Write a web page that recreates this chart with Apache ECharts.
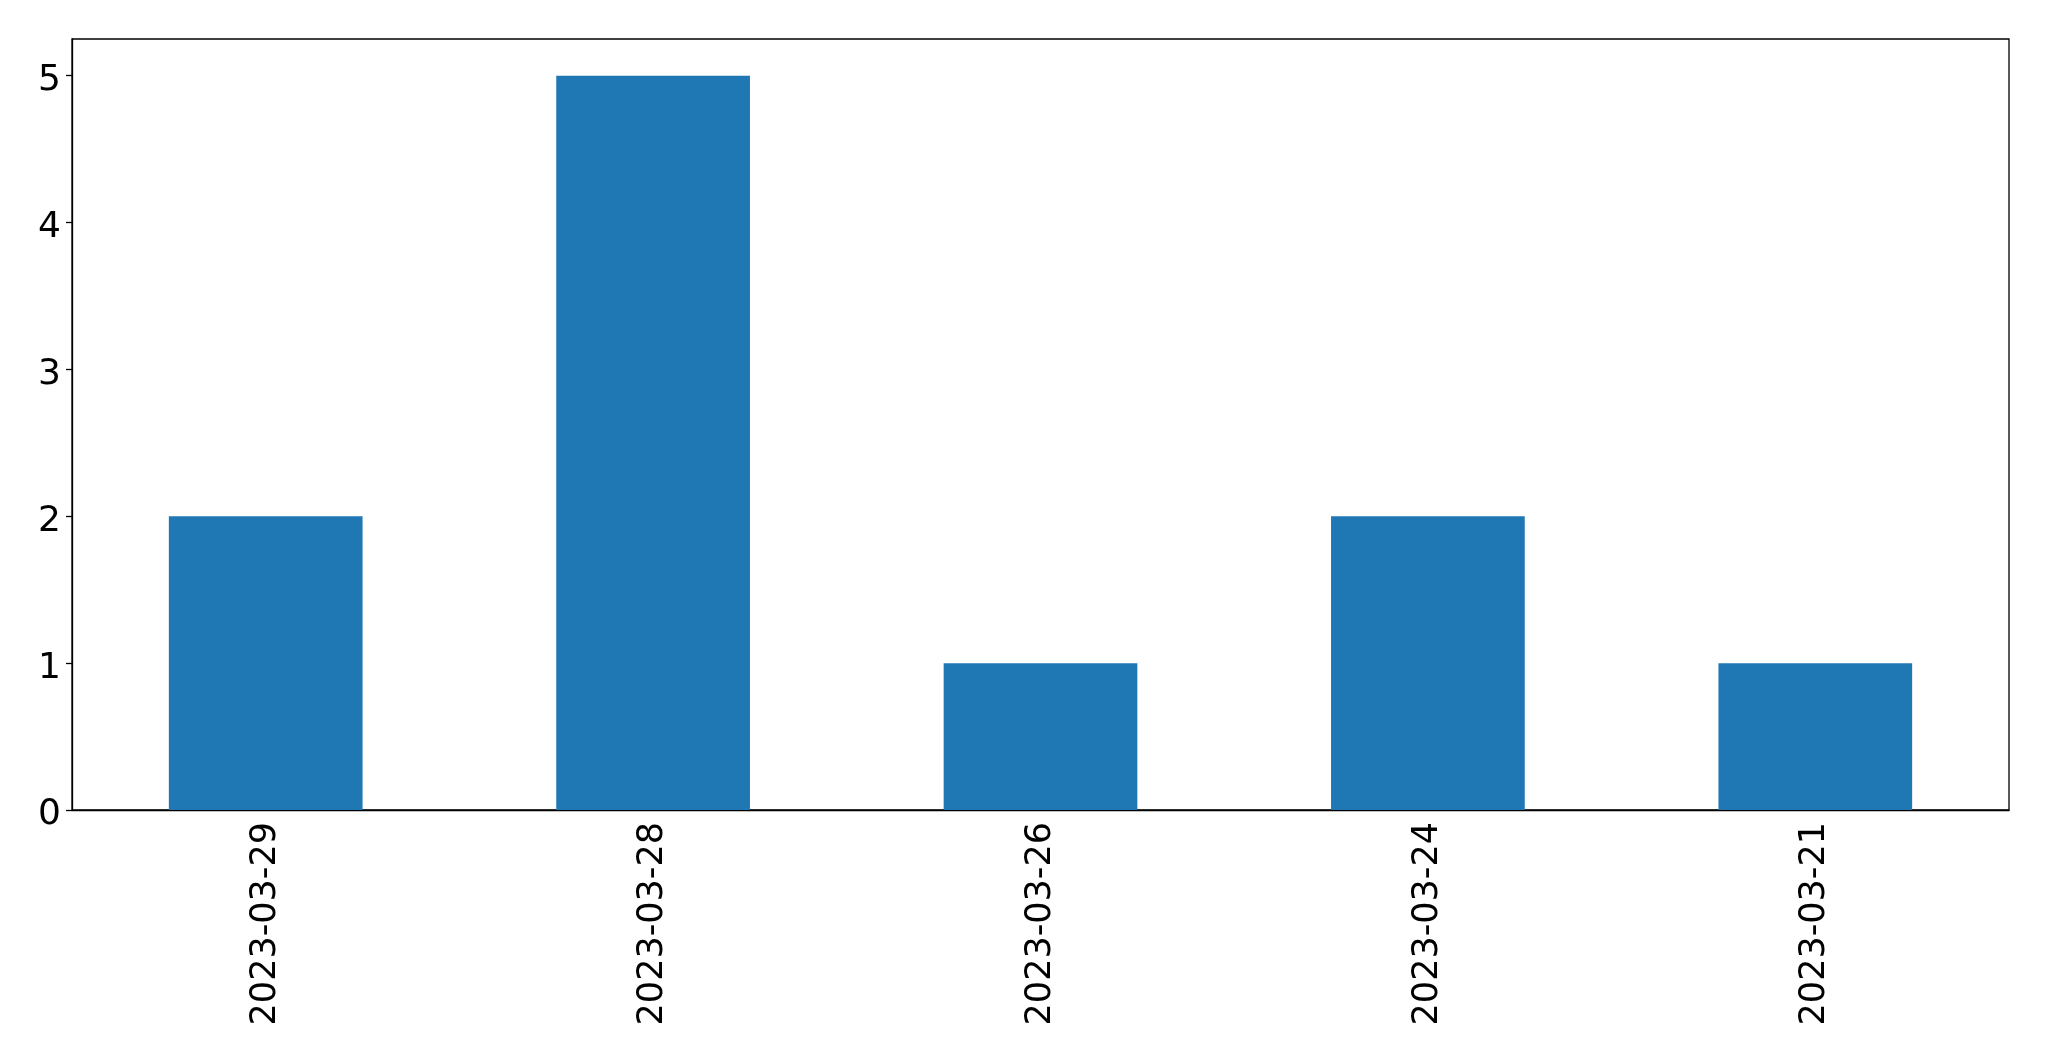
<!DOCTYPE html>
<html>
<head>
<meta charset="utf-8">
<script src="https://cdn.jsdelivr.net/npm/echarts@6/dist/echarts.min.js"></script>
<style>html,body{margin:0;padding:0;background:#fff}#c{width:2049px;height:1061px}</style>
</head>
<body>
<div id="c"></div>
<script>
const categories = ['2023-03-29', '2023-03-28', '2023-03-26', '2023-03-24', '2023-03-21'];
const values = [2, 5, 1, 2, 1];
const yTicks = [0, 1, 2, 3, 4, 5];

const chart = echarts.init(document.getElementById('c'), null, {renderer: 'canvas'});
const font = 'DejaVu Sans';
chart.setOption({
  animation: false,
  backgroundColor: '#ffffff',
  grid: {left: 72, right: 40, top: 39, bottom: 251, show: true, borderColor: '#000', borderWidth: 1.3, containLabel: false},
  xAxis: {
    type: 'category',
    data: categories,
    boundaryGap: true,
    axisLine: {lineStyle: {color: '#000', width: 1.3}},
    axisTick: {alignWithLabel: true, length: 6, lineStyle: {color: '#000', width: 1.3}},
    axisLabel: {rotate: 90, margin: 12, color: '#000', fontFamily: font, fontSize: 35, interval: 0},
    splitLine: {show: false}
  },
  yAxis: {
    type: 'value',
    min: 0,
    max: 5.25,
    interval: 1,
    axisLine: {show: true, lineStyle: {color: '#000', width: 1.3}},
    axisTick: {show: true, length: 6, customValues: yTicks, lineStyle: {color: '#000', width: 1.3}},
    axisLabel: {
      margin: 11, color: '#000', fontFamily: font, fontSize: 36, customValues: yTicks,
      formatter: function (v) { return '{a|' + v + '}'; },
      rich: {a: {fontFamily: font, fontSize: 36, color: '#000', padding: [10, 0, 0, 0]}}
    },
    splitLine: {show: false}
  },
  series: [{
    type: 'bar',
    data: values,
    barWidth: '50%',
    itemStyle: {color: '#1f77b4'}
  }]
});
</script>
</body>
</html>
